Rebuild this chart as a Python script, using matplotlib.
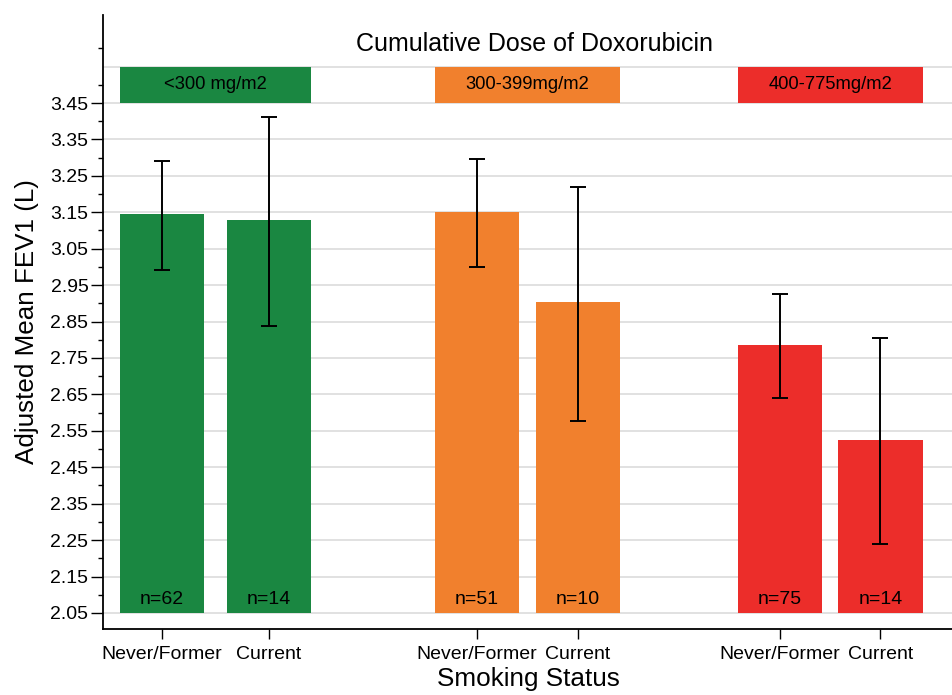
import matplotlib
matplotlib.use("Agg")
import matplotlib.pyplot as plt
from matplotlib.ticker import FixedLocator
import numpy as np

plt.rcParams["font.family"] = ["Liberation Sans", "DejaVu Sans"]

# ---- data --------------------------------------------------------
dose_groups = ["<300 mg/m2", "300-399mg/m2", "400-775mg/m2"]
smoking = ["Never/Former", "Current"]
means = [3.145, 3.129, 3.152, 2.903, 2.787, 2.524]
ci_low = [2.992, 2.839, 2.999, 2.578, 2.639, 2.239]
ci_high = [3.291, 3.412, 3.297, 3.219, 2.926, 2.805]
n_labels = ["n=62", "n=14", "n=51", "n=10", "n=75", "n=14"]

group_colors = ["#1a8741", "#f1802d", "#ec2d2a"]

# ---- layout --------------------------------------------------------
xpos = np.array([1.0, 2.04, 4.07, 5.05, 7.02, 8.0])
bar_w = 0.82
base = 2.05

fig = plt.figure(figsize=(9.53, 6.95), dpi=100)
ax = fig.add_axes([103/953, 1 - 629/695, 1 - 103/953, (629 - 15)/695])

colors = [group_colors[i // 2] for i in range(len(means))]
heights = np.array(means) - base
yerr = [np.array(means) - np.array(ci_low), np.array(ci_high) - np.array(means)]

ax.bar(xpos, heights, bar_w, bottom=base, color=colors, zorder=2)
ax.errorbar(xpos, means, yerr=yerr, fmt="none", ecolor="black",
            elinewidth=1.4, capsize=5.8, capthick=1.4, zorder=3)

for x, lab in zip(xpos, n_labels):
    ax.text(x, 2.088, lab, ha="center", va="center", fontsize=14, zorder=4)

# header boxes for dose groups
for g, name in enumerate(dose_groups):
    x1, x2 = xpos[2*g], xpos[2*g + 1]
    cx = (x1 + x2) / 2
    ax.bar(cx, 0.1, (x2 - x1) + bar_w, bottom=3.45, color=group_colors[g], zorder=2)
    ax.text(cx, 3.50, name, ha="center", va="center", fontsize=13.2, zorder=4)

ax.set_xlim(0.425, 8.707)
ax.set_ylim(2.006, 3.6916)

# y ticks
major = np.round(np.arange(2.05, 3.451, 0.1), 2)
ax.yaxis.set_major_locator(FixedLocator(major))
ax.set_yticklabels([f"{v:.2f}" for v in major])
ax.yaxis.set_minor_locator(FixedLocator(np.round(np.arange(2.10, 3.66, 0.1), 2)))
ax.tick_params(axis="y", which="major", length=8.5, width=1.0, labelsize=14, pad=2)
ax.tick_params(axis="y", which="minor", length=3.8, width=1.0)

for v in np.round(np.arange(2.05, 3.56, 0.1), 2):
    ax.axhline(v, color="#dcdcdc", lw=1.2, zorder=1)

ax.set_xticks(xpos)
ax.set_xticklabels(smoking * 3)
ax.tick_params(axis="x", length=7, width=1.0, labelsize=14, pad=5)

for s in ["top", "right"]:
    ax.spines[s].set_visible(False)
for s in ["left", "bottom"]:
    ax.spines[s].set_linewidth(1.3)

ax.set_ylabel("Adjusted Mean FEV1 (L)", fontsize=18.7, labelpad=8)
ax.set_xlabel("Smoking Status", fontsize=18.8, labelpad=3)

fig.text(535/953, 1 - 44/695, "Cumulative Dose of Doxorubicin",
         ha="center", va="center", fontsize=18)

fig.savefig("out.png", dpi=100)
